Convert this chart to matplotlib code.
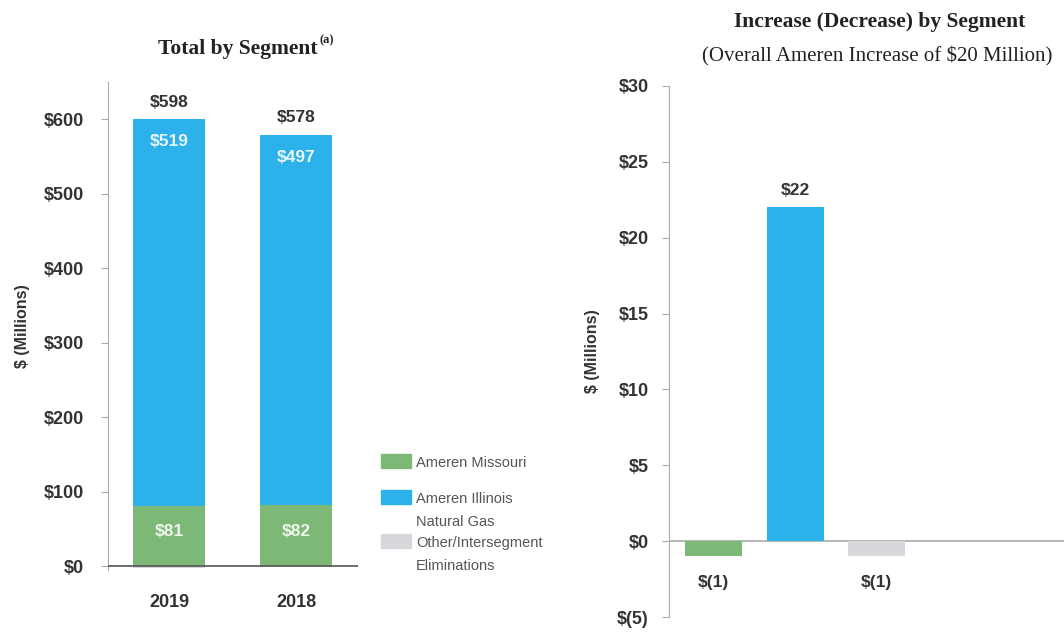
import numpy as np
import matplotlib.pyplot as plt
from matplotlib.patches import Rectangle

# data (millions of dollars)
years = ['2019', '2018']
missouri = [81, 82]
illinois = [519, 497]
other = [-2, -1]
totals = [598, 578]

segments = ['Ameren Missouri', 'Ameren Illinois\nNatural Gas', 'Other/Intersegment\nEliminations']
change = [-1, 22, -1]

green = '#7db877'
blue = '#2db1ea'
grey = '#d8d8dc'
txt = '#333333'

plt.rcParams['font.family'] = ['Liberation Sans Narrow', 'Liberation Sans', 'DejaVu Sans']
serif = ['Liberation Serif', 'DejaVu Serif']

fig = plt.figure(figsize=(10.64, 6.32), dpi=100)

# left chart - totals
ax1 = fig.add_axes([0.1015, 0.098, 0.2345, 0.772])
x = np.arange(len(years))
w = 0.565
ax1.bar(x, missouri, w, color=green, zorder=2)
ax1.bar(x, illinois, w, bottom=missouri, color=blue, zorder=2)
ax1.bar(x, other, w, color=grey, zorder=2)
ax1.axhline(0, color='#555555', lw=1.2, zorder=3)
ax1.set_xlim(-0.48, 1.48)
ax1.set_ylim(-5, 650)
ax1.set_yticks(range(0, 700, 100))
ax1.set_yticklabels(['$%d' % v for v in range(0, 700, 100)])
ax1.set_xticks(x)
ax1.set_xticklabels(years)
for i in range(len(years)):
    ax1.text(x[i], totals[i] + 14, '$%d' % totals[i], ha='center', va='bottom',
             fontsize=12.5, fontweight='bold', color=txt)
    ax1.text(x[i], missouri[i] + illinois[i] - 30, '$%d' % illinois[i], ha='center',
             va='center', fontsize=12.5, fontweight='bold', color='#e8f6fd')
    ax1.text(x[i], missouri[i] / 2 + 6, '$%d' % missouri[i], ha='center', va='center',
             fontsize=12.5, fontweight='bold', color='#eef5ea')
ax1.set_ylabel('$ (Millions)', fontsize=11.5, fontweight='bold', color=txt, labelpad=10)
for s in ['top', 'right', 'bottom']:
    ax1.spines[s].set_visible(False)
ax1.spines['left'].set_color('#aaaaaa')
ax1.tick_params(axis='y', length=5, color='#aaaaaa', labelsize=13, labelcolor=txt, pad=12)
ax1.tick_params(axis='x', length=0, labelsize=13, labelcolor=txt, pad=17)
for lab in ax1.get_xticklabels() + ax1.get_yticklabels():
    lab.set_fontweight('bold')
fig.text(318 / 1064, 0.922, 'Total by Segment', ha='right', va='center',
         fontsize=15.5, fontweight='bold', family=serif, color='#222222')
fig.text(319 / 1064, 0.937, '(a)', ha='left', va='center',
         fontsize=9, fontweight='bold', family=serif, color='#222222')

# legend drawn by hand
leg_y = [461, 497, 541]
for col, lab, yy in zip([green, blue, grey], segments, leg_y):
    fig.patches.append(Rectangle((381 / 1064, 1 - (yy + 7) / 632), 30 / 1064, 14 / 632,
                                 transform=fig.transFigure, color=col))
    fig.text(416 / 1064, 1 - (yy - 5) / 632, lab, ha='left', va='top', fontsize=10.5,
             color='#555555', linespacing=1.85)

# right chart - change
ax2 = fig.add_axes([0.629, 0.0237, 0.371, 0.8403])
x2 = np.arange(len(change))
ax2.bar(x2, change, 0.7, color=[green, blue, grey], zorder=2)
ax2.axhline(0, color='#aaaaaa', lw=1.2, zorder=1)
ax2.set_xlim(-0.546, 4.3)
ax2.set_ylim(-5, 30)
ticks = list(range(-5, 35, 5))
ax2.set_yticks(ticks)
ax2.set_yticklabels(['$(%d)' % -t if t < 0 else '$%d' % t for t in ticks])
ax2.set_xticks([])
for i, v in enumerate(change):
    if v >= 0:
        ax2.text(x2[i], v + 0.6, '$%d' % v, ha='center', va='bottom', fontsize=12.5,
                 fontweight='bold', color=txt)
    else:
        ax2.text(x2[i], v - 1.2, '$(%d)' % -v, ha='center', va='top', fontsize=12.5,
                 fontweight='bold', color=txt)
ax2.set_ylabel('$ (Millions)', fontsize=11.5, fontweight='bold', color=txt, labelpad=12)
for s in ['top', 'right', 'bottom']:
    ax2.spines[s].set_visible(False)
ax2.spines['left'].set_color('#aaaaaa')
ax2.tick_params(axis='y', length=5, color='#aaaaaa', labelsize=13, labelcolor=txt, pad=10)
for lab in ax2.get_yticklabels():
    lab.set_fontweight('bold')
fig.text(0.8266, 0.965, 'Increase (Decrease) by Segment', ha='center', va='center',
         fontsize=15.5, fontweight='bold', family=serif, color='#222222')
fig.text(0.8247, 0.911, '(Overall Ameren Increase of $20 Million)', ha='center', va='center',
         fontsize=15, family=serif, color='#222222')

fig.savefig('out.png', dpi=100)
